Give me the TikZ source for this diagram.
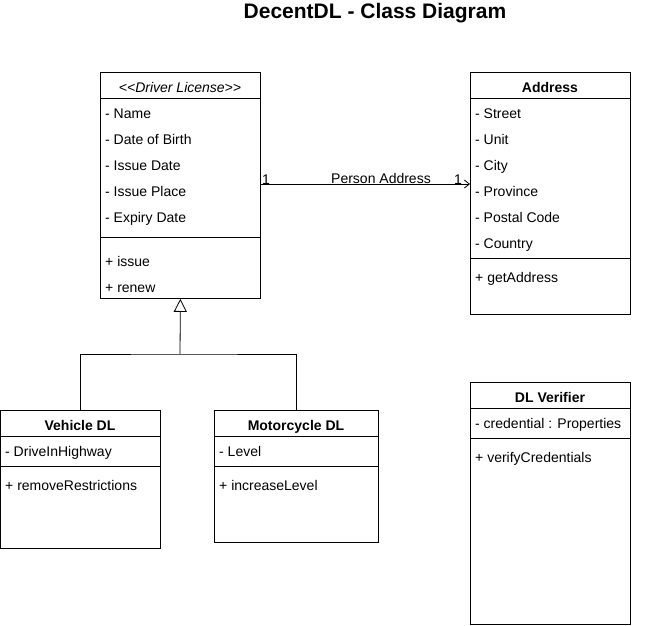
\documentclass[tikz,border=0pt]{standalone}
\usepackage{fontspec}
\setmainfont{Liberation Sans}
\usetikzlibrary{arrows.meta}
\begin{document}
\begin{tikzpicture}[x=1pt,y=-1pt,
  box/.style={draw, line width=0.8pt, anchor=north west, inner sep=0pt, minimum width=160pt},
  attr/.style={anchor=west, inner sep=0pt, text height=11pt, text depth=0pt, font=\fontsize{14}{16}\selectfont},
  head/.style={anchor=center, inner sep=0pt, text height=11pt, text depth=0pt, font=\fontsize{14}{16}\selectfont\bfseries},
  lbl/.style={inner sep=0pt, text height=11pt, text depth=0pt, font=\fontsize{14}{16}\selectfont},
  conn/.style={line width=0.8pt}]
\useasboundingbox (0,0) rectangle (661,625);
\node[inner sep=0pt, text height=15pt, text depth=4pt, font=\fontsize{21}{24}\selectfont\bfseries] (title) at (375,13) {DecentDL - Class Diagram};

% Driver License
\node[box, minimum height=226pt] (dl) at (100,72) {};
\node[lbl, font=\fontsize{14}{16}\selectfont\itshape] (dlh) at (180,87) {<{}<Driver License>{}>};
\draw[conn] (dl.west |- 0,98) -- (dl.east |- 0,98);
\draw[conn] (dl.west |- 0,237) -- (dl.east |- 0,237);
\node[attr] (dl1) at (105,113) {- Name};
\node[attr] (dl2) at (105,139) {- Date of Birth};
\node[attr] (dl3) at (105,165) {- Issue Date};
\node[attr] (dl4) at (105,191) {- Issue Place};
\node[attr] (dl5) at (105,217) {- Expiry Date};
\node[attr] (dl6) at (105,261) {+ issue};
\node[attr] (dl7) at (105,287) {+ renew};

% Address
\node[box, minimum height=242pt] (ad) at (470,72) {};
\node[head] (adh) at (550,87) {Address};
\draw[conn] (ad.west |- 0,98) -- (ad.east |- 0,98);
\draw[conn] (ad.west |- 0,258) -- (ad.east |- 0,258);
\node[attr] (ad1) at (475,113) {- Street};
\node[attr] (ad2) at (475,139) {- Unit};
\node[attr] (ad3) at (475,165) {- City};
\node[attr] (ad4) at (475,191) {- Province};
\node[attr] (ad5) at (475,217) {- Postal Code};
\node[attr] (ad6) at (475,243) {- Country};
\node[attr] (ad7) at (475,277) {+ getAddress};

% Association
\coordinate (a1) at (260,184);
\coordinate (a2) at (470,184);
\draw[conn, -{Straight Barb[length=5pt,width=8pt,line width=0.8pt]}] (dl.east |- a1) -- (ad.west |- a2);
\node[lbl] (m1) at (266,179) {1};
\node[lbl] (m2) at (458,179) {1};
\node[lbl] (pa) at (381,178) {Person Address};

% Vehicle DL
\node[box, minimum height=138pt] (vd) at (0,410) {};
\node[head] (vdh) at (80,425) {Vehicle DL};
\draw[conn] (vd.west |- 0,436) -- (vd.east |- 0,436);
\draw[conn] (vd.west |- 0,466) -- (vd.east |- 0,466);
\node[attr] (vd1) at (5,451) {- DriveInHighway};
\node[attr] (vd2) at (5,485) {+ removeRestrictions};

% Motorcycle DL
\node[box, minimum width=164pt, minimum height=132pt] (md) at (214,410) {};
\node[head] (mdh) at (296,425) {Motorcycle DL};
\draw[conn] (md.west |- 0,436) -- (md.east |- 0,436);
\draw[conn] (md.west |- 0,466) -- (md.east |- 0,466);
\node[attr] (md1) at (219,451) {- Level};
\node[attr] (md2) at (219,485) {+ increaseLevel};

% Generalization
\coordinate (j) at (180,354);
\draw[conn] (vd.north) |- (j) -| (md.north);
\draw[conn, -{Triangle[open, length=13pt, width=13pt, line width=0.8pt]}] (j) -- (dl.south);

% DL Verifier
\node[box, minimum height=242pt] (vf) at (470,382) {};
\node[head] (vfh) at (550,397) {DL Verifier};
\draw[conn] (vf.west |- 0,408) -- (vf.east |- 0,408);
\draw[conn] (vf.west |- 0,438) -- (vf.east |- 0,438);
\node[attr] (vf1) at (475,423) {- credential : Properties};
\node[attr] (vf2) at (475,457) {+ verifyCredentials};
\end{tikzpicture}
\end{document}
